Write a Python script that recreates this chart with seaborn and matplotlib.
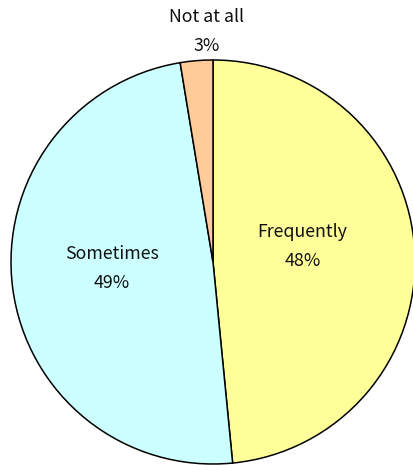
import numpy as np
import matplotlib
matplotlib.use("Agg")
import matplotlib.pyplot as plt
import seaborn as sns

# datos (las etiquetas muestran el valor redondeado)
categorias = ["Frequently", "Sometimes", "Not at all"]
porcentajes = [48.45, 48.95, 2.6]
colores = ["#FFFF99", "#CCFFFF", "#FFCC99"]

sns.set_style("white")
plt.rcParams["font.family"] = ["Noto Sans CJK JP", "DejaVu Sans"]

fig = plt.figure(figsize=(4.14, 4.65), dpi=100)
ax = fig.add_axes([0, 0, 1, 1])

# centro y radio en pixeles de la figura
cx, cy, r = 213, 465 - 262, 202
wedges, _ = ax.pie(porcentajes, colors=colores, startangle=90, counterclock=False,
                   center=(cx, cy), radius=r,
                   wedgeprops={"edgecolor": "black", "linewidth": 1.1})
ax.set_xlim(0, 414)
ax.set_ylim(0, 465)
ax.set_aspect("auto")
ax.axis("off")

# etiquetas: distancia relativa al radio y ajuste de angulo
dist = [0.45, 0.50, 1.14]
ajuste = [7, -4, -3]
for w, cat, p, d, a in zip(wedges, categorias, porcentajes, dist, ajuste):
    ang = np.deg2rad((w.theta1 + w.theta2) / 2 + a)
    x = cx + d * r * np.cos(ang)
    y = cy + d * r * np.sin(ang)
    ax.text(x, y + 14.5, cat, ha="center", va="center", fontsize=12.8, color="#111111")
    ax.text(x, y - 14.5, f"{round(p):.0f}%", ha="center", va="center", fontsize=12.8, color="#111111")

fig.savefig("out.png", dpi=100)
